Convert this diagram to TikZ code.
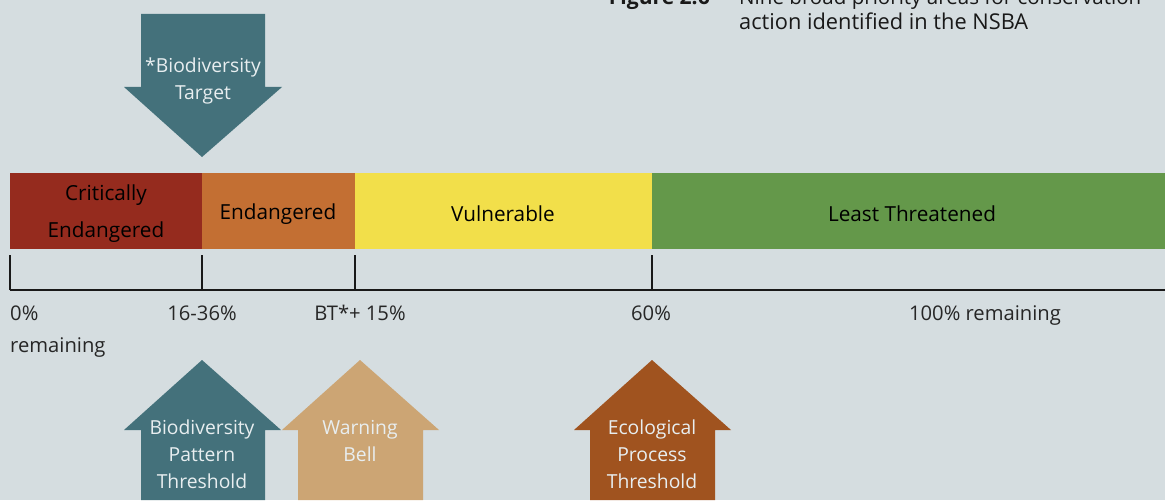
\documentclass[tikz,border=0pt]{standalone}
\usepackage{fontspec}
\setmainfont{Open Sans}
\usetikzlibrary{positioning}

\definecolor{bgcol}{HTML}{D5DDE0}
\definecolor{critcol}{HTML}{952B1E}
\definecolor{endcol}{HTML}{C36F33}
\definecolor{vulcol}{HTML}{F2DF4A}
\definecolor{leastcol}{HTML}{64984A}
\definecolor{tealcol}{HTML}{44717B}
\definecolor{tancol}{HTML}{CCA574}
\definecolor{browncol}{HTML}{A0531F}
\definecolor{pale}{HTML}{E8EEF0}

\tikzset{
  barlabel/.style={text=black, font=\fontsize{11.8}{21}\selectfont, align=center},
  arrowlabel/.style={text=pale, font=\fontsize{11}{15.3}\selectfont, align=center},
  scalelabel/.style={text=black!85, font=\fontsize{11.5}{14}\selectfont},
  caption/.style={text=black!90, font=\fontsize{12.4}{14}\selectfont},
  axis/.style={line width=1.5pt, black!90}
}

\begin{document}
\begin{tikzpicture}[x=0.02cm, y=-0.02cm]
  \useasboundingbox (0,0) rectangle (1165,500);
  \fill[bgcol] (0,0) rectangle (1165,500);

  % caption, cut at the top
  \node[caption, anchor=base east, font=\fontsize{12}{14}\selectfont\bfseries] (fig) at (716,5) {Figure 2.6};
  \node[caption, anchor=base west, font=\fontsize{11.7}{14}\selectfont] (capa) at (733,5) {Nine broad priority areas for conservation};
  \node[caption, anchor=base west] (capb) at (733,30) {action identified in the NSBA};

  % the bar
  \fill[critcol] (10,173) rectangle (202,249);
  \fill[endcol] (202,173) rectangle (355,249);
  \fill[vulcol] (355,173) rectangle (652,249);
  \fill[leastcol] (652,173) rectangle (1165,249);

  \begin{scope}[every node/.style={barlabel}]
    \node (cr) at (106,214) {Critically\\Endangered};
    \node (en) at (278,214) {Endangered};
    \node (vu) at (503,214) {Vulnerable};
    \node (lt) at (912,214) {Least Threatened};
  \end{scope}

  % the scale
  \coordinate (t0) at (10,290);
  \coordinate (t1) at (202,290);
  \coordinate (t2) at (355,290);
  \coordinate (t3) at (652,290);
  \coordinate (tend) at (1165,290);
  \draw[axis] (t0) -- (tend);
  \foreach \t in {t0,t1,t2,t3} {
    \draw[axis] (\t) -- ++(0,-35);
  }

  \begin{scope}[every node/.style={scalelabel}]
    \node[anchor=base west] (p0) at (4,320) {0\%};
    \node[anchor=base west] (p0b) at (4,352) {remaining};
    \node[anchor=base] (p1) at (202,320) {16-36\%};
    \node[anchor=base] (p2) at (360,320) {BT*+ 15\%};
    \node[anchor=base] (p3) at (651,320) {60\%};
    \node[anchor=base] (p4) at (985,320) {100\% remaining};
  \end{scope}

  % target arrow
  \fill[tealcol] (141,14) -- (265,14) -- (265,87) -- (282,87) -- (202,157)
    -- (124,87) -- (141,87) -- cycle;
  \node[arrowlabel] (bt) at (203,81) {*Biodiversity\\Target};

  % threshold arrows
  \fill[tealcol] (141,500) -- (141,430) -- (124,430) -- (202,360) -- (281,430)
    -- (265,430) -- (265,500) -- cycle;
  \fill[tancol] (298,500) -- (298,430) -- (282,430) -- (360,360) -- (439,430)
    -- (423,430) -- (423,500) -- cycle;
  \fill[browncol] (590,500) -- (590,430) -- (574,430) -- (652,360) -- (731,430)
    -- (715,430) -- (715,500) -- cycle;

  \node[arrowlabel] (bpt) at (202,454) {Biodiversity\\Pattern\\Threshold};
  \node[arrowlabel] (wb) at (360,441) {Warning\\Bell};
  \node[arrowlabel] (ept) at (652,454) {Ecological\\Process\\Threshold};
\end{tikzpicture}
\end{document}
